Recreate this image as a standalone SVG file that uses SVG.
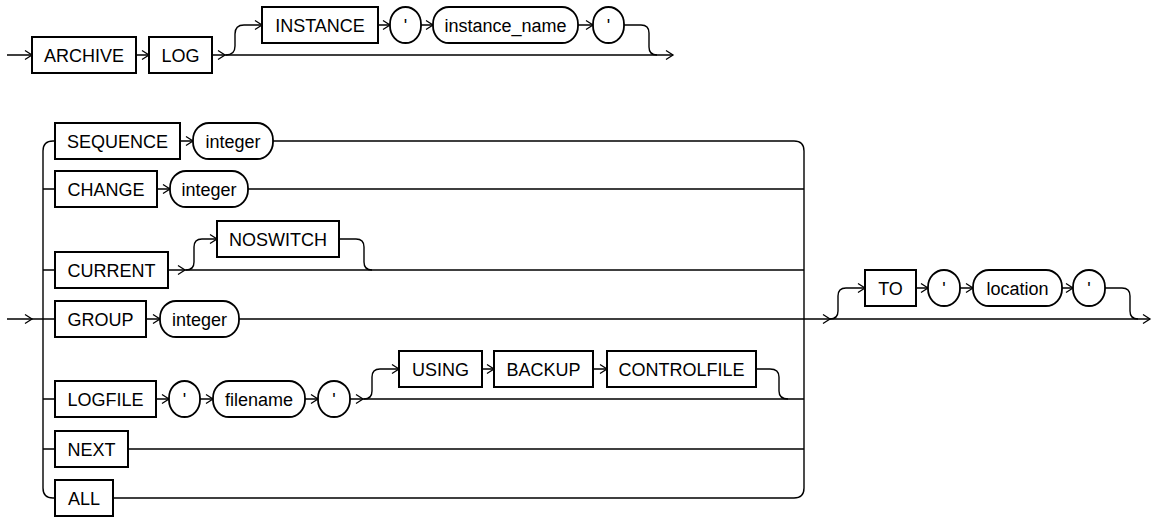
<svg xmlns="http://www.w3.org/2000/svg" xmlns:xlink="http://www.w3.org/1999/xlink" width="1152" height="517" viewBox="0 0 1152 517">
<style>
.bx{fill:#fff;stroke:#000;stroke-width:2}
.ov{fill:#fff;stroke:#000;stroke-width:1.8}
.ln{fill:none;stroke:#000;stroke-width:1.4}
.ah{fill:none;stroke:#000;stroke-width:1.3}
text{font-family:"Liberation Sans",Arial,sans-serif;font-size:18px;fill:#000;text-anchor:middle}
</style>
<defs>
<path id="a" class="ah" d="M-7,-4.5 L0,0 L-7,4.5"/>
</defs>
<rect width="1152" height="517" fill="#fff"/>
<g id="connectors">
<path class="ln" d="M7 55 H32 M136 55 H149 M212 55 H673"/>
<path class="ln" d="M226 55 Q235 55 235 46 V34 Q235 25 244 25 H262"/>
<path class="ln" d="M378 25 H390 M421 25 H433 M578 25 H593"/>
<path class="ln" d="M624 25 H641 Q649 25 649 33 V47 Q649 55 657 55"/>
<path class="ln" d="M7 319 H55"/>
<path class="ln" d="M55 141 H53 Q43 141 43 151 V488 Q43 498 53 498 H55"/>
<path class="ln" d="M43 189 H55 M43 270 H55 M43 399 H55 M43 449 H55"/>
<path class="ln" d="M180 141 H193 M273 141 H794 Q804 141 804 151 V488 Q804 498 794 498 H113"/>
<path class="ln" d="M157 189 H170 M248 189 H804"/>
<path class="ln" d="M168 270 H804"/>
<path class="ln" d="M186 270 Q194 270 194 262 V247 Q194 239 202 239 H217"/>
<path class="ln" d="M339 239 H356 Q364 239 364 247 V262 Q364 270 372 270"/>
<path class="ln" d="M146 319 H160 M239 319 H1150"/>
<path class="ln" d="M830 319 Q838 319 838 311 V296 Q838 288 846 288 H865"/>
<path class="ln" d="M916 288 H928 M960 288 H973 M1062 288 H1073"/>
<path class="ln" d="M1105 288 H1122 Q1130 288 1130 296 V311 Q1130 319 1138 319"/>
<path class="ln" d="M156 399 H169 M200 399 H213 M305 399 H318 M350 399 H804"/>
<path class="ln" d="M364 399 Q372 399 372 391 V377 Q372 369 380 369 H399"/>
<path class="ln" d="M482 369 H494 M593 369 H607"/>
<path class="ln" d="M756 369 H770 Q779 369 779 377 V391 Q779 399 788 399"/>
<path class="ln" d="M128 449 H804"/>
<use href="#a" x="32" y="55"/>
<use href="#a" x="149" y="55"/>
<use href="#a" x="225" y="55"/>
<use href="#a" x="262" y="25"/>
<use href="#a" x="390" y="25"/>
<use href="#a" x="433" y="25"/>
<use href="#a" x="593" y="25"/>
<use href="#a" x="673" y="55"/>
<use href="#a" x="32" y="319"/>
<use href="#a" x="193" y="141"/>
<use href="#a" x="170" y="189"/>
<use href="#a" x="185" y="270"/>
<use href="#a" x="217" y="239"/>
<use href="#a" x="160" y="319"/>
<use href="#a" x="169" y="399"/>
<use href="#a" x="213" y="399"/>
<use href="#a" x="318" y="399"/>
<use href="#a" x="363" y="399"/>
<use href="#a" x="399" y="369"/>
<use href="#a" x="494" y="369"/>
<use href="#a" x="607" y="369"/>
<use href="#a" x="830" y="319"/>
<use href="#a" x="865" y="288"/>
<use href="#a" x="928" y="288"/>
<use href="#a" x="973" y="288"/>
<use href="#a" x="1073" y="288"/>
<use href="#a" x="1150" y="319"/>
</g>
<g id="n-archive"><rect class="bx" x="32" y="37" width="104" height="36"/><text x="84" y="61.5">ARCHIVE</text></g>
<g id="n-log"><rect class="bx" x="149" y="37" width="63" height="36"/><text x="180.5" y="61.5">LOG</text></g>
<g id="n-instance"><rect class="bx" x="262" y="7" width="116" height="36"/><text x="320" y="31.5">INSTANCE</text></g>
<g id="n-q1"><rect class="ov" x="390" y="7" width="31" height="36" rx="15.5" ry="17"/><text x="405.5" y="31.5">'</text></g>
<g id="n-instance-name"><rect class="ov" x="433" y="7" width="145" height="36" rx="16" ry="17"/><text x="505.5" y="31.5">instance_name</text></g>
<g id="n-q2"><rect class="ov" x="593" y="7" width="31" height="36" rx="15.5" ry="17"/><text x="608.5" y="31.5">'</text></g>
<g id="n-sequence"><rect class="bx" x="55" y="123" width="125" height="36"/><text x="117.5" y="147.5">SEQUENCE</text></g>
<g id="n-seq-int"><rect class="ov" x="193" y="123" width="80" height="36" rx="16" ry="17"/><text x="233" y="147.5">integer</text></g>
<g id="n-change"><rect class="bx" x="55" y="171" width="102" height="36"/><text x="106" y="195.5">CHANGE</text></g>
<g id="n-change-int"><rect class="ov" x="170" y="171" width="78" height="36" rx="16" ry="17"/><text x="209" y="195.5">integer</text></g>
<g id="n-noswitch"><rect class="bx" x="217" y="221" width="122" height="36"/><text x="278" y="245.5">NOSWITCH</text></g>
<g id="n-current"><rect class="bx" x="55" y="252" width="113" height="36"/><text x="111.5" y="276.5">CURRENT</text></g>
<g id="n-group"><rect class="bx" x="55" y="301" width="91" height="36"/><text x="100.5" y="325.5">GROUP</text></g>
<g id="n-group-int"><rect class="ov" x="160" y="301" width="79" height="36" rx="16" ry="17"/><text x="199.5" y="325.5">integer</text></g>
<g id="n-using"><rect class="bx" x="399" y="351" width="83" height="36"/><text x="440.5" y="375.5">USING</text></g>
<g id="n-backup"><rect class="bx" x="494" y="351" width="99" height="36"/><text x="543.5" y="375.5">BACKUP</text></g>
<g id="n-controlfile"><rect class="bx" x="607" y="351" width="149" height="36"/><text x="681.5" y="375.5">CONTROLFILE</text></g>
<g id="n-logfile"><rect class="bx" x="55" y="381" width="101" height="36"/><text x="105.5" y="405.5">LOGFILE</text></g>
<g id="n-q3"><rect class="ov" x="169" y="381" width="31" height="36" rx="15.5" ry="17"/><text x="184.5" y="405.5">'</text></g>
<g id="n-filename"><rect class="ov" x="213" y="381" width="92" height="36" rx="16" ry="17"/><text x="259" y="405.5">filename</text></g>
<g id="n-q4"><rect class="ov" x="318" y="381" width="32" height="36" rx="16" ry="17"/><text x="334" y="405.5">'</text></g>
<g id="n-next"><rect class="bx" x="55" y="431" width="73" height="36"/><text x="91.5" y="455.5">NEXT</text></g>
<g id="n-all"><rect class="bx" x="55" y="480" width="58" height="36"/><text x="84" y="504.5">ALL</text></g>
<g id="n-to"><rect class="bx" x="865" y="270" width="51" height="36"/><text x="890.5" y="294.5">TO</text></g>
<g id="n-q5"><rect class="ov" x="928" y="270" width="32" height="36" rx="16" ry="17"/><text x="944" y="294.5">'</text></g>
<g id="n-location"><rect class="ov" x="973" y="270" width="89" height="36" rx="16" ry="17"/><text x="1017.5" y="294.5">location</text></g>
<g id="n-q6"><rect class="ov" x="1073" y="270" width="32" height="36" rx="16" ry="17"/><text x="1089" y="294.5">'</text></g>
</svg>
